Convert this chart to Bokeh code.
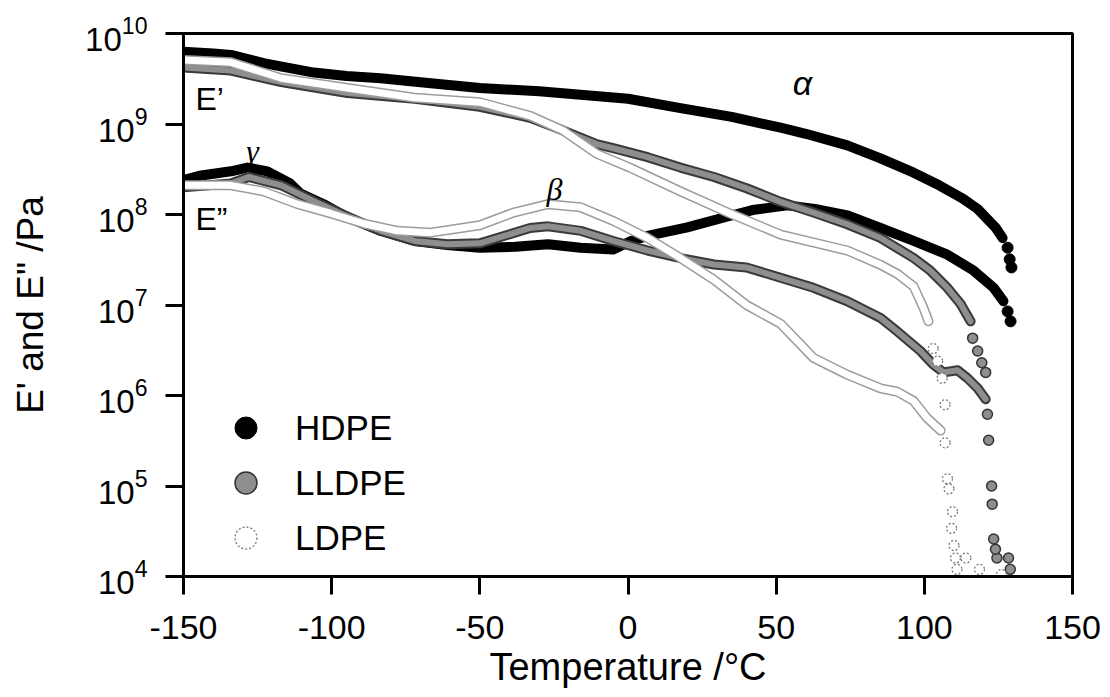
from math import pi
from bokeh.plotting import figure
from bokeh.models import Label, Legend, LegendItem, FixedTicker, LogTickFormatter
from bokeh.embed import file_html
from bokeh.resources import INLINE

# ---------------- data ----------------
x_ticks = [-150, -100, -50, 0, 50, 100, 150]
x_tick_labels = ["-150", "-100", "-50", "0", "50", "100", "150"]
y_tick_exponents = [4, 5, 6, 7, 8, 9, 10]

# HDPE storage modulus E' (Pa)
hdpe_Ep_T = [-150, -140, -134, -123, -115, -106, -95, -83.5, -70, -50, -30, -16, 0, 17.7, 35,
             51.5, 60, 74, 85, 96.4, 105, 113, 118, 121, 124, 126.4]
hdpe_Ep = [6.3e9, 6.0e9, 5.8e9, 4.7e9, 4.2e9, 3.7e9, 3.4e9, 3.2e9, 2.9e9, 2.5e9, 2.3e9, 2.1e9, 1.9e9,
           1.5e9, 1.2e9, 9.1e8, 7.8e8, 5.8e8, 4.2e8, 2.9e8, 2.1e8, 1.5e8, 1.15e8, 9.1e7, 7.2e7, 5.5e7]
hdpe_Ep_tail_T = [128.1, 128.8, 129.4]
hdpe_Ep_tail = [4.3e7, 3.2e7, 2.6e7]

# HDPE loss modulus E'' (Pa)
hdpe_Epp_T = [-150, -144, -134, -128.4, -121.7, -114, -110.5, -102.7, -94.7, -83.5, -72, -61, -50,
              -38, -27, -16, -5, 1, 6.6, 20, 33.6, 42, 53.8, 63, 74.1, 85.2, 96.4, 107.8, 116.6,
              123.4, 126.7]
hdpe_Epp = [2.4e8, 2.7e8, 3.0e8, 3.3e8, 3.0e8, 2.2e8, 1.7e8, 1.3e8, 9.3e7, 6.6e7, 5.1e7, 4.6e7, 4.3e7,
            4.4e7, 4.7e7, 4.3e7, 4.1e7, 5.1e7, 5.8e7, 7.2e7, 9.5e7, 1.12e8, 1.26e8, 1.15e8, 9.8e7,
            7.1e7, 5.1e7, 3.6e7, 2.4e7, 1.55e7, 1.1e7]
hdpe_Epp_tail_T = [128.1, 129.1]
hdpe_Epp_tail = [8.5e6, 6.6e6]

# LLDPE E'
lldpe_Ep_T = [-150, -134, -117, -94.7, -72, -50, -33, -22, -10.6, -5, 6.6, 17.7, 29, 40, 51.5,
              62.6, 74, 85.2, 96.4, 102, 107.8, 112.3, 115.6]
lldpe_Ep = [4.2e9, 3.9e9, 2.9e9, 2.2e9, 1.9e9, 1.55e9, 1.17e9, 8.5e8, 6.0e8, 5.4e8, 4.3e8, 3.3e8,
            2.6e8, 1.95e8, 1.38e8, 1.05e8, 7.8e7, 5.5e7, 3.3e7, 2.4e7, 1.55e7, 1.02e7, 6.6e6]
lldpe_Ep_tail_T = [116.3, 118, 119.4, 120.7, 121.3, 122.7, 123.4, 124.5, 128.4]
lldpe_Ep_tail = [4.3e6, 3.1e6, 2.3e6, 1.8e6, 6.2e5, 1.0e5, 2.6e4, 1.6e4, 1.6e4]

# LLDPE E''
lldpe_Epp_T = [-150, -134, -128, -117, -106, -94.7, -83.5, -72, -61, -50, -33, -27, -16, -5, 6.6,
               17.7, 29, 40, 51.5, 62.6, 74, 85.2, 90.9, 98.7, 103, 106.5, 111.2, 114.6, 118, 120.7]
lldpe_Epp = [2.0e8, 2.2e8, 2.6e8, 2.1e8, 1.4e8, 9.5e7, 6.6e7, 5.1e7, 4.7e7, 4.8e7, 7.1e7, 7.4e7,
             6.6e7, 5.1e7, 4.0e7, 3.3e7, 2.8e7, 2.6e7, 2.0e7, 1.55e7, 1.1e7, 7.2e6, 5.1e6, 3.1e6,
             2.2e6, 1.8e6, 1.9e6, 1.55e6, 1.2e6, 9.1e5]
lldpe_Epp_tail_T = [121.7, 122.9, 124, 129]
lldpe_Epp_tail = [3.2e5, 6.3e4, 2.0e4, 1.2e4]

# LDPE E'
ldpe_Ep_T = [-150, -134, -117, -94.7, -72, -50, -33, -22, -10.6, 0.6, 17.7, 34.6, 51.5, 74, 85,
             91, 96.4, 99.7, 101.4]
ldpe_Ep = [5.1e9, 4.8e9, 3.2e9, 2.5e9, 1.95e9, 1.74e9, 1.23e9, 8.5e8, 4.7e8, 3.3e8, 1.8e8, 1.02e8,
           6.0e7, 4.0e7, 2.8e7, 2.2e7, 1.6e7, 9.3e6, 6.6e6]
ldpe_Ep_tail_T = [103, 104.5, 106, 107, 107.8, 109.5, 110, 111, 118.6, 126]
ldpe_Ep_tail = [3.3e6, 2.4e6, 1.55e6, 7.9e5, 1.2e5, 5.2e4, 2.2e4, 1.2e4, 1.2e4, 1.05e4]

# LDPE E''
ldpe_Epp_T = [-150, -134, -123, -111.5, -100, -89, -77.8, -66.6, -50, -38.6, -27, -16, -5, 6.6,
              17.7, 29, 40, 51.5, 62.6, 74, 85.2, 90.9, 96.4, 101, 105.5]
ldpe_Epp = [2.1e8, 2.1e8, 1.8e8, 1.3e8, 1.02e8, 7.9e7, 6.6e7, 6.3e7, 7.6e7, 1.05e8, 1.3e8, 1.2e8,
            8.5e7, 5.5e7, 3.3e7, 1.9e7, 1.0e7, 6.2e6, 2.6e6, 1.7e6, 1.2e6, 1.1e6, 8.7e5, 5.6e5, 4.1e5]
ldpe_Epp_tail_T = [107, 108.3, 109.2, 110.5, 114]
ldpe_Epp_tail = [3.0e5, 9.3e4, 3.4e4, 1.6e4, 1.6e4]

series_names = ["HDPE", "LLDPE", "LDPE"]

# ---------------- figure ----------------
FONT = "Liberation Sans"
p = figure(width=1110, height=697, x_range=(-150, 150), y_range=(1e4, 1e10),
           y_axis_type="log", output_backend="svg", toolbar_location=None, title=None,
           min_border_left=183, min_border_right=38, min_border_top=33, min_border_bottom=121)
p.background_fill_color = "white"
p.border_fill_color = "white"
p.outline_line_color = "black"
p.outline_line_width = 3
p.outline_line_alpha = 1.0
p.xgrid.visible = False
p.ygrid.visible = False

xa = p.xaxis[0]
xa.ticker = FixedTicker(ticks=x_ticks)
xa.major_label_overrides = {t: s for t, s in zip(x_ticks, x_tick_labels)}
xa.major_label_text_font = FONT
xa.major_label_text_font_size = "34px"
xa.major_label_text_color = "black"
xa.major_label_standoff = 21
xa.major_tick_out = 18
xa.major_tick_in = 0
xa.major_tick_line_width = 3
xa.minor_tick_line_color = None
xa.axis_line_width = 3
xa.axis_label = "Temperature /°C"
xa.axis_label_text_font = FONT
xa.axis_label_text_font_size = "38px"
xa.axis_label_text_font_style = "normal"
xa.axis_label_text_color = "black"
xa.axis_label_standoff = 4

ya = p.yaxis[0]
ya.ticker = FixedTicker(ticks=[10.0 ** e for e in y_tick_exponents])
ya.formatter = LogTickFormatter()
ya.major_label_text_font = FONT
ya.major_label_text_font_size = "33px"
ya.major_label_text_color = "black"
ya.major_label_standoff = 18
ya.major_tick_out = 18
ya.major_tick_in = 0
ya.major_tick_line_width = 3
ya.minor_tick_line_color = None
ya.axis_line_width = 3
ya.axis_label = "E' and E\" /Pa"
ya.axis_label_text_font = FONT
ya.axis_label_text_font_size = "37px"
ya.axis_label_text_font_style = "normal"
ya.axis_label_text_color = "black"
ya.axis_label_standoff = 31


def band(T, E, outer, w_out, inner=None, w_in=0):
    p.line(T, E, line_color=outer, line_width=w_out, line_cap="round", line_join="round")
    if inner is not None:
        p.line(T, E, line_color=inner, line_width=w_in, line_cap="round", line_join="round")


# HDPE (black)
band(hdpe_Ep_T, hdpe_Ep, "black", 10)
band(hdpe_Epp_T, hdpe_Epp, "black", 10)
r_hd = p.scatter(hdpe_Ep_tail_T, hdpe_Ep_tail, marker="circle", size=11, fill_color="black",
                 line_color="black")
p.scatter(hdpe_Epp_tail_T, hdpe_Epp_tail, marker="circle", size=11, fill_color="black",
          line_color="black")

# LLDPE (grey)
band(lldpe_Ep_T, lldpe_Ep, "#3a3a3a", 10, "#8e8e8e", 6)
band(lldpe_Epp_T, lldpe_Epp, "#3a3a3a", 10, "#8e8e8e", 6)
r_ll = p.scatter(lldpe_Ep_tail_T, lldpe_Ep_tail, marker="circle", size=10, fill_color="#8e8e8e",
                 line_color="#333333", line_width=1.5)
p.scatter(lldpe_Epp_tail_T, lldpe_Epp_tail, marker="circle", size=10, fill_color="#8e8e8e",
          line_color="#333333", line_width=1.5)

# LDPE (open)
band(ldpe_Ep_T, ldpe_Ep, "#9c9c9c", 10, "white", 7)
band(ldpe_Epp_T, ldpe_Epp, "#9c9c9c", 10, "white", 7)
r_ld = p.scatter(ldpe_Ep_tail_T, ldpe_Ep_tail, marker="circle", size=10, fill_color="white",
                 line_color="#7a7a7a", line_width=1.3, line_dash="2 2")
p.scatter(ldpe_Epp_tail_T, ldpe_Epp_tail, marker="circle", size=10, fill_color="white",
          line_color="#7a7a7a", line_width=1.3, line_dash="2 2")

# in-plot annotations
p.add_layout(Label(x=-150, y=1.88e9, x_offset=12, text="E\u2019", text_baseline="middle",
                   text_font=FONT, text_font_size="32px", text_color="black"))
p.add_layout(Label(x=-150, y=8.84e7, x_offset=12, text="E\u201d", text_baseline="middle",
                   text_font=FONT, text_font_size="32px", text_color="black"))
p.add_layout(Label(x=-126.7, y=5.07e8, text="\u03b3", text_align="center", text_baseline="middle",
                   text_font="Liberation Serif", text_font_style="italic", text_font_size="32px",
                   text_color="black"))
p.add_layout(Label(x=-24.8, y=1.92e8, text="\u03b2", text_align="center", text_baseline="middle",
                   text_font="Liberation Serif", text_font_style="italic", text_font_size="32px",
                   text_color="black"))
p.add_layout(Label(x=58.9, y=2.87e9, text="\u03b1", text_align="center", text_baseline="middle",
                   text_font=FONT, text_font_style="italic", text_font_size="34px",
                   text_color="black"))

legend = Legend(items=[LegendItem(label=series_names[0], renderers=[r_hd]),
                       LegendItem(label=series_names[1], renderers=[r_ll]),
                       LegendItem(label=series_names[2], renderers=[r_ld])],
                location=(35, 11), background_fill_alpha=0, border_line_color=None,
                label_text_font=FONT, label_text_font_size="35px", label_text_color="black",
                glyph_width=55, glyph_height=55, spacing=-12, padding=0, margin=0,
                label_standoff=22)
p.add_layout(legend)

open("out.html", "w").write(file_html(p, INLINE))
